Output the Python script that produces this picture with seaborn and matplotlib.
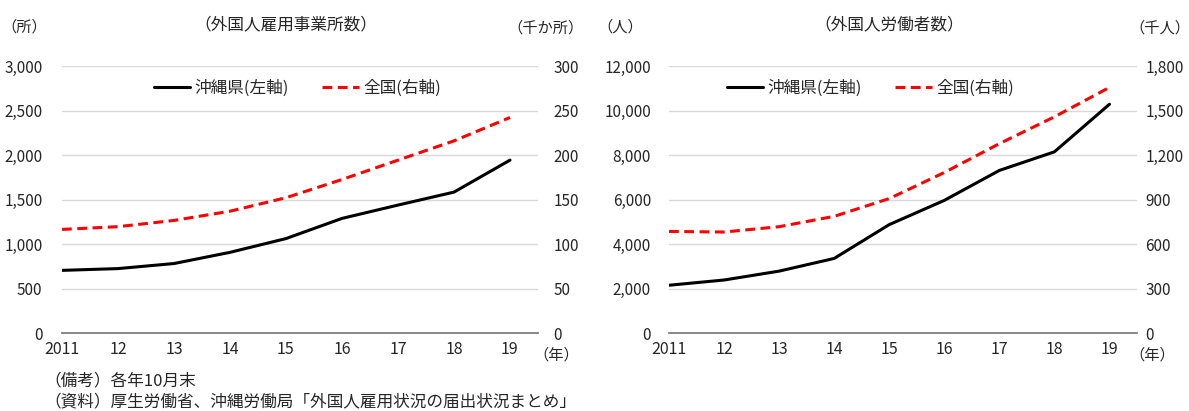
import matplotlib
matplotlib.use("Agg")
import matplotlib.pyplot as plt
import seaborn as sns
import numpy as np
from matplotlib.ticker import FuncFormatter

# data
years = ["2011", "12", "13", "14", "15", "16", "17", "18", "19"]

# 外国人雇用事業所数
okinawa_firms = [705, 725, 782, 908, 1063, 1290, 1440, 1586, 1946]     # 所 (左軸)
japan_firms = [116.6, 119.7, 126.7, 137.1, 152.3, 172.8, 194.6, 216.3, 242.6]  # 千か所 (右軸)

# 外国人労働者数
okinawa_workers = [2150, 2386, 2786, 3357, 4880, 5971, 7320, 8158, 10300]  # 人 (左軸)
japan_workers = [686, 682, 718, 788, 908, 1084, 1279, 1460, 1659]          # 千人 (右軸)

sns.set_style("white")
plt.rcParams["font.family"] = ["Noto Sans CJK JP", "DejaVu Sans"]
plt.rcParams["font.size"] = 10.5

W, H = 1189, 411
fig = plt.figure(figsize=(W / 100, H / 100), dpi=100)


def px_box(x0, x1, y_top, y_bot):
    return [x0 / W, 1 - y_bot / H, (x1 - x0) / W, (y_bot - y_top) / H]


def comma(v, pos):
    return f"{int(v):,}"


def panel(box, left_vals, right_vals, lmax, rmax, lstep, rstep, leg_x,
          lpad, rpad, title, lunit, runit, unit_pos):
    ax = fig.add_axes(box)
    ax2 = ax.twinx()
    sns.lineplot(x=years, y=left_vals, ax=ax, color="black", lw=2.2,
                 label="沖縄県(左軸)", legend=False, sort=False)
    sns.lineplot(x=years, y=right_vals, ax=ax2, color="#ff0000", lw=2.2,
                 label="全国(右軸)", legend=False, sort=False)
    ax2.lines[0].set_dashes([3.2, 1.8])

    ax.set_xlim(0, 8.5)
    ax.set_ylim(0, lmax)
    ax2.set_ylim(0, rmax)
    ax.set_yticks(np.arange(0, lmax + 1, lstep))
    ax2.set_yticks(np.arange(0, rmax + 1, rstep))
    ax.yaxis.set_major_formatter(FuncFormatter(comma))
    ax2.yaxis.set_major_formatter(FuncFormatter(comma))
    ax.grid(axis="y", color="#d9d9d9", lw=1)
    ax.set_xlabel("")
    ax.set_ylabel("")
    ax2.set_ylabel("")
    for a in (ax, ax2):
        for s in ("top", "left", "right", "bottom"):
            a.spines[s].set_visible(False)
    ax.spines["bottom"].set_visible(True)
    ax.spines["bottom"].set_color("#7f7f7f")
    ax.spines["bottom"].set_linewidth(1.3)
    ax.tick_params(axis="x", direction="in", length=4, width=1.2,
                   color="#7f7f7f", pad=6, labelsize=11.5)
    ax.tick_params(axis="y", length=0, pad=lpad, labelsize=11)
    ax2.tick_params(axis="y", length=0, pad=rpad, labelsize=11)

    h1, l1 = ax.get_legend_handles_labels()
    h2, l2 = ax2.get_legend_handles_labels()
    ax2.legend(h1 + h2, l1 + l2, loc="center", bbox_to_anchor=(leg_x, 0.919),
               ncol=2, frameon=False, fontsize=12, handlelength=2.2,
               handletextpad=0.25, columnspacing=2.0)

    x0, x1 = box[0], box[0] + box[2]
    fig.text(unit_pos[0] / W, 1 - 27 / H, lunit, ha="center", va="center", fontsize=11)
    fig.text((x0 + x1) / 2 - 0.012, 1 - 25 / H, title, ha="center", va="center", fontsize=12)
    fig.text(unit_pos[1] / W, 1 - 28 / H, runit, ha="center", va="center", fontsize=11)
    fig.text(unit_pos[2] / W, 1 - 355 / H, "（年）", ha="center", va="center", fontsize=11)
    return ax


panel(px_box(62, 538, 66.5, 333), okinawa_firms, japan_firms, 3000, 300, 500, 50,
      0.494, 14, 11, "（外国人雇用事業所数）", "（所）", "（千か所）", (24, 545, 556))
panel(px_box(669, 1137, 66.5, 333), okinawa_workers, japan_workers, 12000, 1800, 2000, 300,
      0.43, 13, 6, "（外国人労働者数）", "（人）", "（千人）", (620, 1160, 1152))

fig.text(44 / W, 1 - 381 / H, "（備考）各年10月末", ha="left", va="center", fontsize=12)
fig.text(44 / W, 1 - 402 / H, "（資料）厚生労働省、沖縄労働局「外国人雇用状況の届出状況まとめ」",
         ha="left", va="center", fontsize=12)

fig.savefig("out.png", dpi=100)
